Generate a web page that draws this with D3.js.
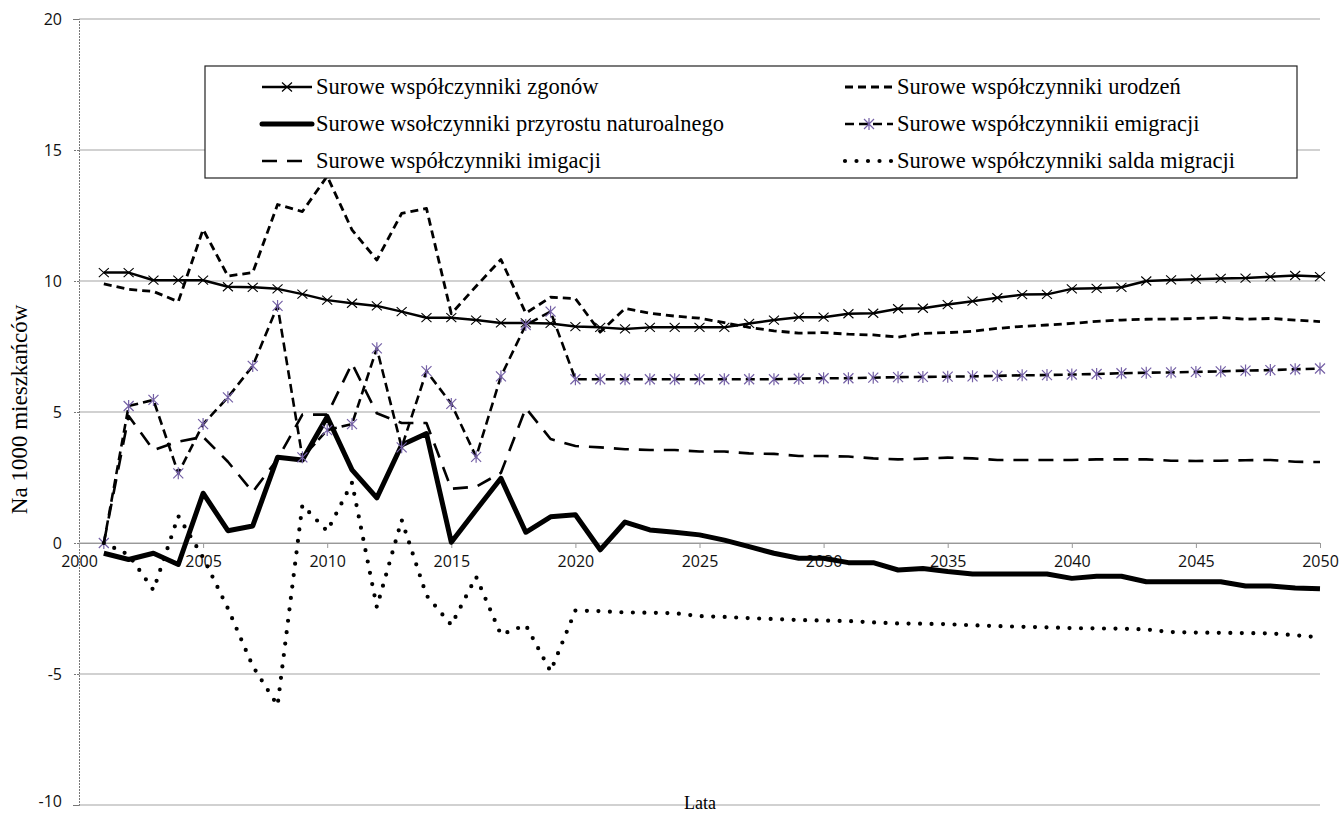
<!DOCTYPE html>
<html><head><meta charset="utf-8">
<script src="https://cdn.jsdelivr.net/npm/d3@7"></script>
<style>body{margin:0;background:#fff;} svg{display:block;}</style>
</head><body><svg id="c" width="1343" height="814"></svg>
<script>
const years = [2001,2002,2003,2004,2005,2006,2007,2008,2009,2010,2011,2012,2013,2014,2015,2016,2017,2018,2019,2020,2021,2022,2023,2024,2025,2026,2027,2028,2029,2030,2031,2032,2033,2034,2035,2036,2037,2038,2039,2040,2041,2042,2043,2044,2045,2046,2047,2048,2049,2050];
const zgonow = [10.32,10.32,10.03,10.03,10.03,9.78,9.76,9.70,9.50,9.27,9.15,9.05,8.83,8.60,8.60,8.51,8.40,8.40,8.38,8.26,8.23,8.17,8.23,8.23,8.23,8.23,8.38,8.51,8.62,8.62,8.75,8.77,8.94,8.96,9.10,9.23,9.36,9.48,9.49,9.70,9.72,9.76,10.00,10.04,10.07,10.10,10.11,10.16,10.21,10.17];
const urodzen = [9.89,9.68,9.60,9.21,11.97,10.19,10.32,12.92,12.65,14.0,11.95,10.80,12.58,12.77,8.75,9.80,10.82,8.77,9.38,9.33,8.05,8.95,8.77,8.66,8.58,8.41,8.23,8.10,8.01,8.03,7.97,7.94,7.86,8.00,8.03,8.08,8.19,8.27,8.32,8.38,8.46,8.51,8.54,8.55,8.57,8.61,8.54,8.57,8.51,8.45];
const przyrost = [-0.39,-0.63,-0.39,-0.82,1.90,0.47,0.65,3.27,3.17,4.82,2.79,1.72,3.74,4.18,0.03,1.26,2.47,0.41,1.00,1.08,-0.26,0.80,0.50,0.41,0.31,0.11,-0.14,-0.39,-0.58,-0.58,-0.75,-0.75,-1.03,-0.97,-1.09,-1.18,-1.18,-1.18,-1.18,-1.35,-1.27,-1.27,-1.48,-1.48,-1.48,-1.48,-1.64,-1.64,-1.72,-1.75];
const emigracja = [0,5.23,5.46,2.66,4.54,5.56,6.76,9.05,3.27,4.31,4.54,7.43,3.65,6.56,5.31,3.29,6.36,8.32,8.83,6.25,6.25,6.25,6.25,6.25,6.25,6.25,6.25,6.25,6.27,6.29,6.29,6.31,6.33,6.34,6.35,6.36,6.38,6.40,6.41,6.43,6.45,6.48,6.50,6.51,6.53,6.55,6.58,6.60,6.63,6.66];
const imigracja = [0,4.85,3.55,3.87,4.05,3.10,1.95,3.20,4.90,4.90,6.85,4.95,4.58,4.58,2.07,2.15,2.68,5.15,3.97,3.70,3.65,3.58,3.55,3.55,3.49,3.49,3.42,3.40,3.32,3.32,3.30,3.23,3.19,3.22,3.26,3.23,3.17,3.17,3.17,3.17,3.19,3.19,3.19,3.14,3.13,3.14,3.16,3.17,3.10,3.09];
const saldo = [0,-0.45,-1.80,1.03,-0.55,-2.50,-4.70,-6.20,1.45,0.45,2.30,-2.45,0.88,-2.00,-3.13,-1.29,-3.50,-3.13,-4.90,-2.58,-2.60,-2.65,-2.66,-2.68,-2.79,-2.82,-2.87,-2.90,-2.94,-2.96,-2.98,-3.03,-3.07,-3.08,-3.10,-3.14,-3.17,-3.20,-3.22,-3.25,-3.26,-3.27,-3.30,-3.40,-3.42,-3.43,-3.44,-3.45,-3.52,-3.60];
const seriesNames = ["Surowe współczynniki zgonów","Surowe współczynniki urodzeń","Surowe wsołczynniki przyrostu naturoalnego","Surowe współczynnikii emigracji","Surowe współczynniki imigacji","Surowe współczynniki salda migracji"];
const xTicks = [2000,2005,2010,2015,2020,2025,2030,2035,2040,2045,2050];
const yTicks = [-10,-5,0,5,10,15,20];
const yTitle = "Na 1000 mieszkańców";
const xTitle = "Lata";

const svg = d3.select("#c");
const x = d3.scaleLinear().domain([2000,2050]).range([79,1320]);
const y = d3.scaleLinear().domain([-10,20]).range([805,19]);
const serif = "'Liberation Serif','Times New Roman',serif";
const sans = "'Open Sans','DejaVu Sans',sans-serif";
const purple = "#7561a6";

// gridlines
svg.append("g").selectAll("line").data(yTicks).join("line")
  .attr("x1", x(2000)).attr("x2", x(2050))
  .attr("y1", d=>y(d)).attr("y2", d=>y(d))
  .attr("stroke", "#a3a3a3").attr("stroke-width", 1);

// y axis
const ya = svg.append("g").attr("transform", `translate(${x(2000)},0)`)
  .call(d3.axisLeft(y).tickValues(yTicks).tickSize(6).tickPadding(11).tickFormat(d=>String(d)));
ya.select(".domain").attr("stroke", "#777").attr("stroke-dasharray", "2,1");
ya.selectAll(".tick line").attr("stroke", "#777").attr("stroke-dasharray", "2,1");
ya.selectAll("text").attr("font-family", sans).attr("font-size", 16).attr("fill", "#111")
  .attr("dy", d => d === -10 ? "0.1em" : "0.32em");

// x axis at zero
const xa = svg.append("g").attr("transform", `translate(0,${y(0)})`)
  .call(d3.axisBottom(x).tickValues(xTicks).tickSize(5).tickPadding(8).tickFormat(d=>String(d)));
xa.select(".domain").attr("stroke", "#999");
xa.selectAll(".tick line").attr("stroke", "#999");
xa.selectAll("text").attr("font-family", sans).attr("font-size", 16).attr("fill", "#111");

// axis titles
svg.append("text").attr("transform", `translate(27,${y(5.1)}) rotate(-90)`)
  .attr("text-anchor","middle").attr("font-family", serif).attr("font-size", 23).text(yTitle);
svg.append("text").attr("x", 700).attr("y", 809).attr("text-anchor","middle")
  .attr("font-family", serif).attr("font-size", 18).text(xTitle);

const styles = [
  {data:zgonow, w:2.5, dash:null, marker:"x"},
  {data:urodzen, w:2.8, dash:"8,5", marker:null},
  {data:przyrost, w:5, dash:null, marker:null},
  {data:emigracja, w:2.6, dash:"9,5", marker:"star"},
  {data:imigracja, w:2.6, dash:"15,10", marker:null},
  {data:saldo, w:4.2, dash:"0,11.5", marker:null, round:true}
];
const line = d3.line().x((d,i)=>x(years[i])).y(d=>y(d));
const xPath = "M-5,-4.5L5,4.5M-5,4.5L5,-4.5";
const starPath = "M0,-6L0,6M-5,-5L5,5M-5,5L5,-5";

const plot = svg.append("g");
styles.forEach(s=>{
  plot.append("path").attr("d", line(s.data)).attr("fill","none")
    .attr("stroke","#000").attr("stroke-width", s.w)
    .attr("stroke-dasharray", s.dash)
    .attr("stroke-linecap", s.round ? "round" : "butt")
    .attr("stroke-linejoin","round");
  if (s.marker) {
    plot.append("g").selectAll("path").data(s.data).join("path")
      .attr("transform",(d,i)=>`translate(${x(years[i])},${y(d)})`)
      .attr("d", s.marker==="x" ? xPath : starPath)
      .attr("fill","none")
      .attr("stroke", s.marker==="x" ? "#000" : purple)
      .attr("stroke-width", s.marker==="x" ? 1.1 : 1.2);
  }
});

// legend
const lg = svg.append("g");
lg.append("rect").attr("x",205).attr("y",66).attr("width",1092).attr("height",112)
  .attr("fill","#fff").attr("stroke","#222").attr("stroke-width",1.2);
const rowsY = [87,124,161];
const cols = [{x0:262,x1:312,tx:316},{x0:845,x1:893,tx:897}];
const order = [[0,0,0],[1,1,0],[2,0,1],[3,1,1],[4,0,2],[5,1,2]];
order.forEach(([si,c,r])=>{
  const s = styles[si], col = cols[c], yy = rowsY[r];
  lg.append("line").attr("x1",col.x0).attr("x2",col.x1).attr("y1",yy).attr("y2",yy)
    .attr("stroke","#000").attr("stroke-width",s.w).attr("stroke-dasharray",s.dash)
    .attr("stroke-linecap", s.round ? "round" : (si===2?"round":"butt"));
  if (s.marker) {
    lg.append("path").attr("transform",`translate(${(col.x0+col.x1)/2},${yy})`)
      .attr("d", s.marker==="x" ? xPath : starPath).attr("fill","none")
      .attr("stroke", s.marker==="x" ? "#000" : purple).attr("stroke-width",1.2);
  }
  lg.append("text").attr("x",col.tx).attr("y",yy).attr("dy","0.33em")
    .attr("font-family",serif).attr("font-size",22.5).attr("fill","#000").text(seriesNames[si]);
});
</script></body></html>
